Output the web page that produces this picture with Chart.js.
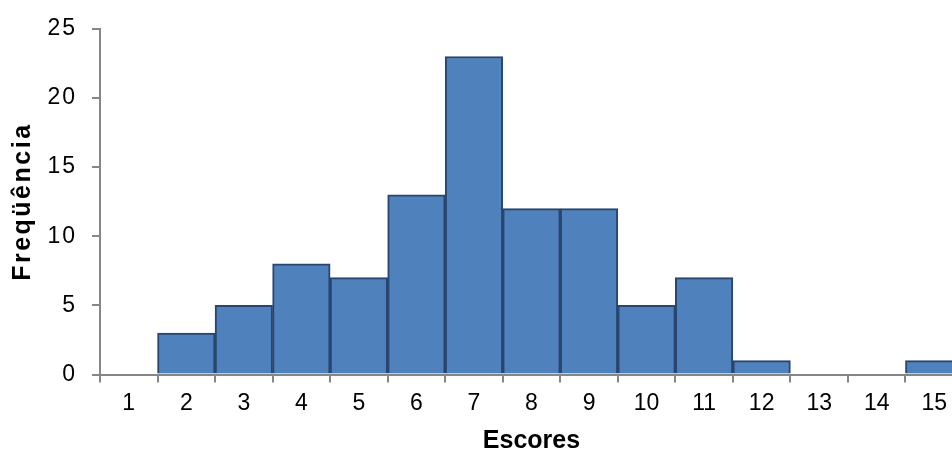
<!DOCTYPE html>
<html>
<head>
<meta charset="utf-8">
<script src="https://cdn.jsdelivr.net/npm/chart.js@4"></script>
<style>
  html, body { margin: 0; padding: 0; background: #fff; overflow: hidden; }
  #wrap { width: 980px; height: 456px; }
</style>
</head>
<body>
<div id="wrap"><canvas id="grafico" width="980" height="456"></canvas></div>
<script>
// dados do histograma
const escores = ["1", "2", "3", "4", "5", "6", "7", "8", "9", "10", "11", "12", "13", "14", "15"];
const frequencias = [0, 3, 5, 8, 7, 13, 23, 12, 12, 5, 7, 1, 0, 0, 1];
const ticksY = [0, 5, 10, 15, 20, 25];

const corEixo = "#868686";
const fonte = "'Liberation Sans', Arial, sans-serif";

// o eixo Y do original tem o texto um pouco mais largo
function espacar(scale, metodo, px) {
    if (scale["_esp_" + metodo]) return;
    const orig = scale[metodo];
    scale[metodo] = function () {
        const c = this.ctx;
        c.save();
        c.letterSpacing = px;
        orig.apply(this, arguments);
        c.restore();
    };
    scale["_esp_" + metodo] = true;
}

const pluginEspaco = {
    id: "espaco",
    beforeDraw(chart) {
        espacar(chart.scales.y, "drawTitle", "2.5px");
        espacar(chart.scales.y, "drawLabels", "2px");
    }
};

new Chart(document.getElementById("grafico").getContext("2d"), {
    type: "bar",
    data: {
        labels: escores,
        datasets: [{
            label: "Freqüência",
            data: frequencias,
            backgroundColor: "#4F81BD",
            borderColor: "#28466E",
            borderWidth: 2,
            barPercentage: 1,
            categoryPercentage: 1
        }]
    },
    plugins: [pluginEspaco],
    options: {
        responsive: false,
        animation: false,
        layout: { padding: { top: 28, right: 17, left: 0, bottom: 0 } },
        plugins: {
            legend: { display: false },
            tooltip: { enabled: false }
        },
        scales: {
            x: {
                grid: {
                    offset: true,
                    drawOnChartArea: false,
                    drawTicks: true,
                    tickLength: 8,
                    color: corEixo,
                    lineWidth: 2
                },
                border: { color: corEixo, width: 2 },
                ticks: {
                    color: "#000",
                    font: { family: fonte, size: 23 },
                    padding: 7,
                    maxRotation: 0,
                    autoSkip: false
                },
                title: {
                    display: true,
                    text: "Escores",
                    color: "#000",
                    font: { family: fonte, size: 25, weight: "bold" },
                    padding: { top: 0, bottom: 0 }
                },
                afterFit: function (s) { s.height = 81.5; }
            },
            y: {
                min: 0,
                max: 25,
                afterBuildTicks: function (s) {
                    s.ticks = ticksY.map(v => ({ value: v }));
                },
                grid: {
                    drawOnChartArea: false,
                    drawTicks: true,
                    tickLength: 8,
                    color: corEixo,
                    lineWidth: 2
                },
                border: { color: corEixo, width: 2 },
                ticks: {
                    color: "#000",
                    font: { family: fonte, size: 23 },
                    padding: 15
                },
                title: {
                    display: true,
                    text: "Freqüência",
                    color: "#000",
                    font: { family: fonte, size: 25, weight: "bold" },
                    padding: { top: 8, bottom: 0 }
                },
                afterFit: function (s) { s.width = 100; }
            }
        }
    }
});
</script>
</body>
</html>
